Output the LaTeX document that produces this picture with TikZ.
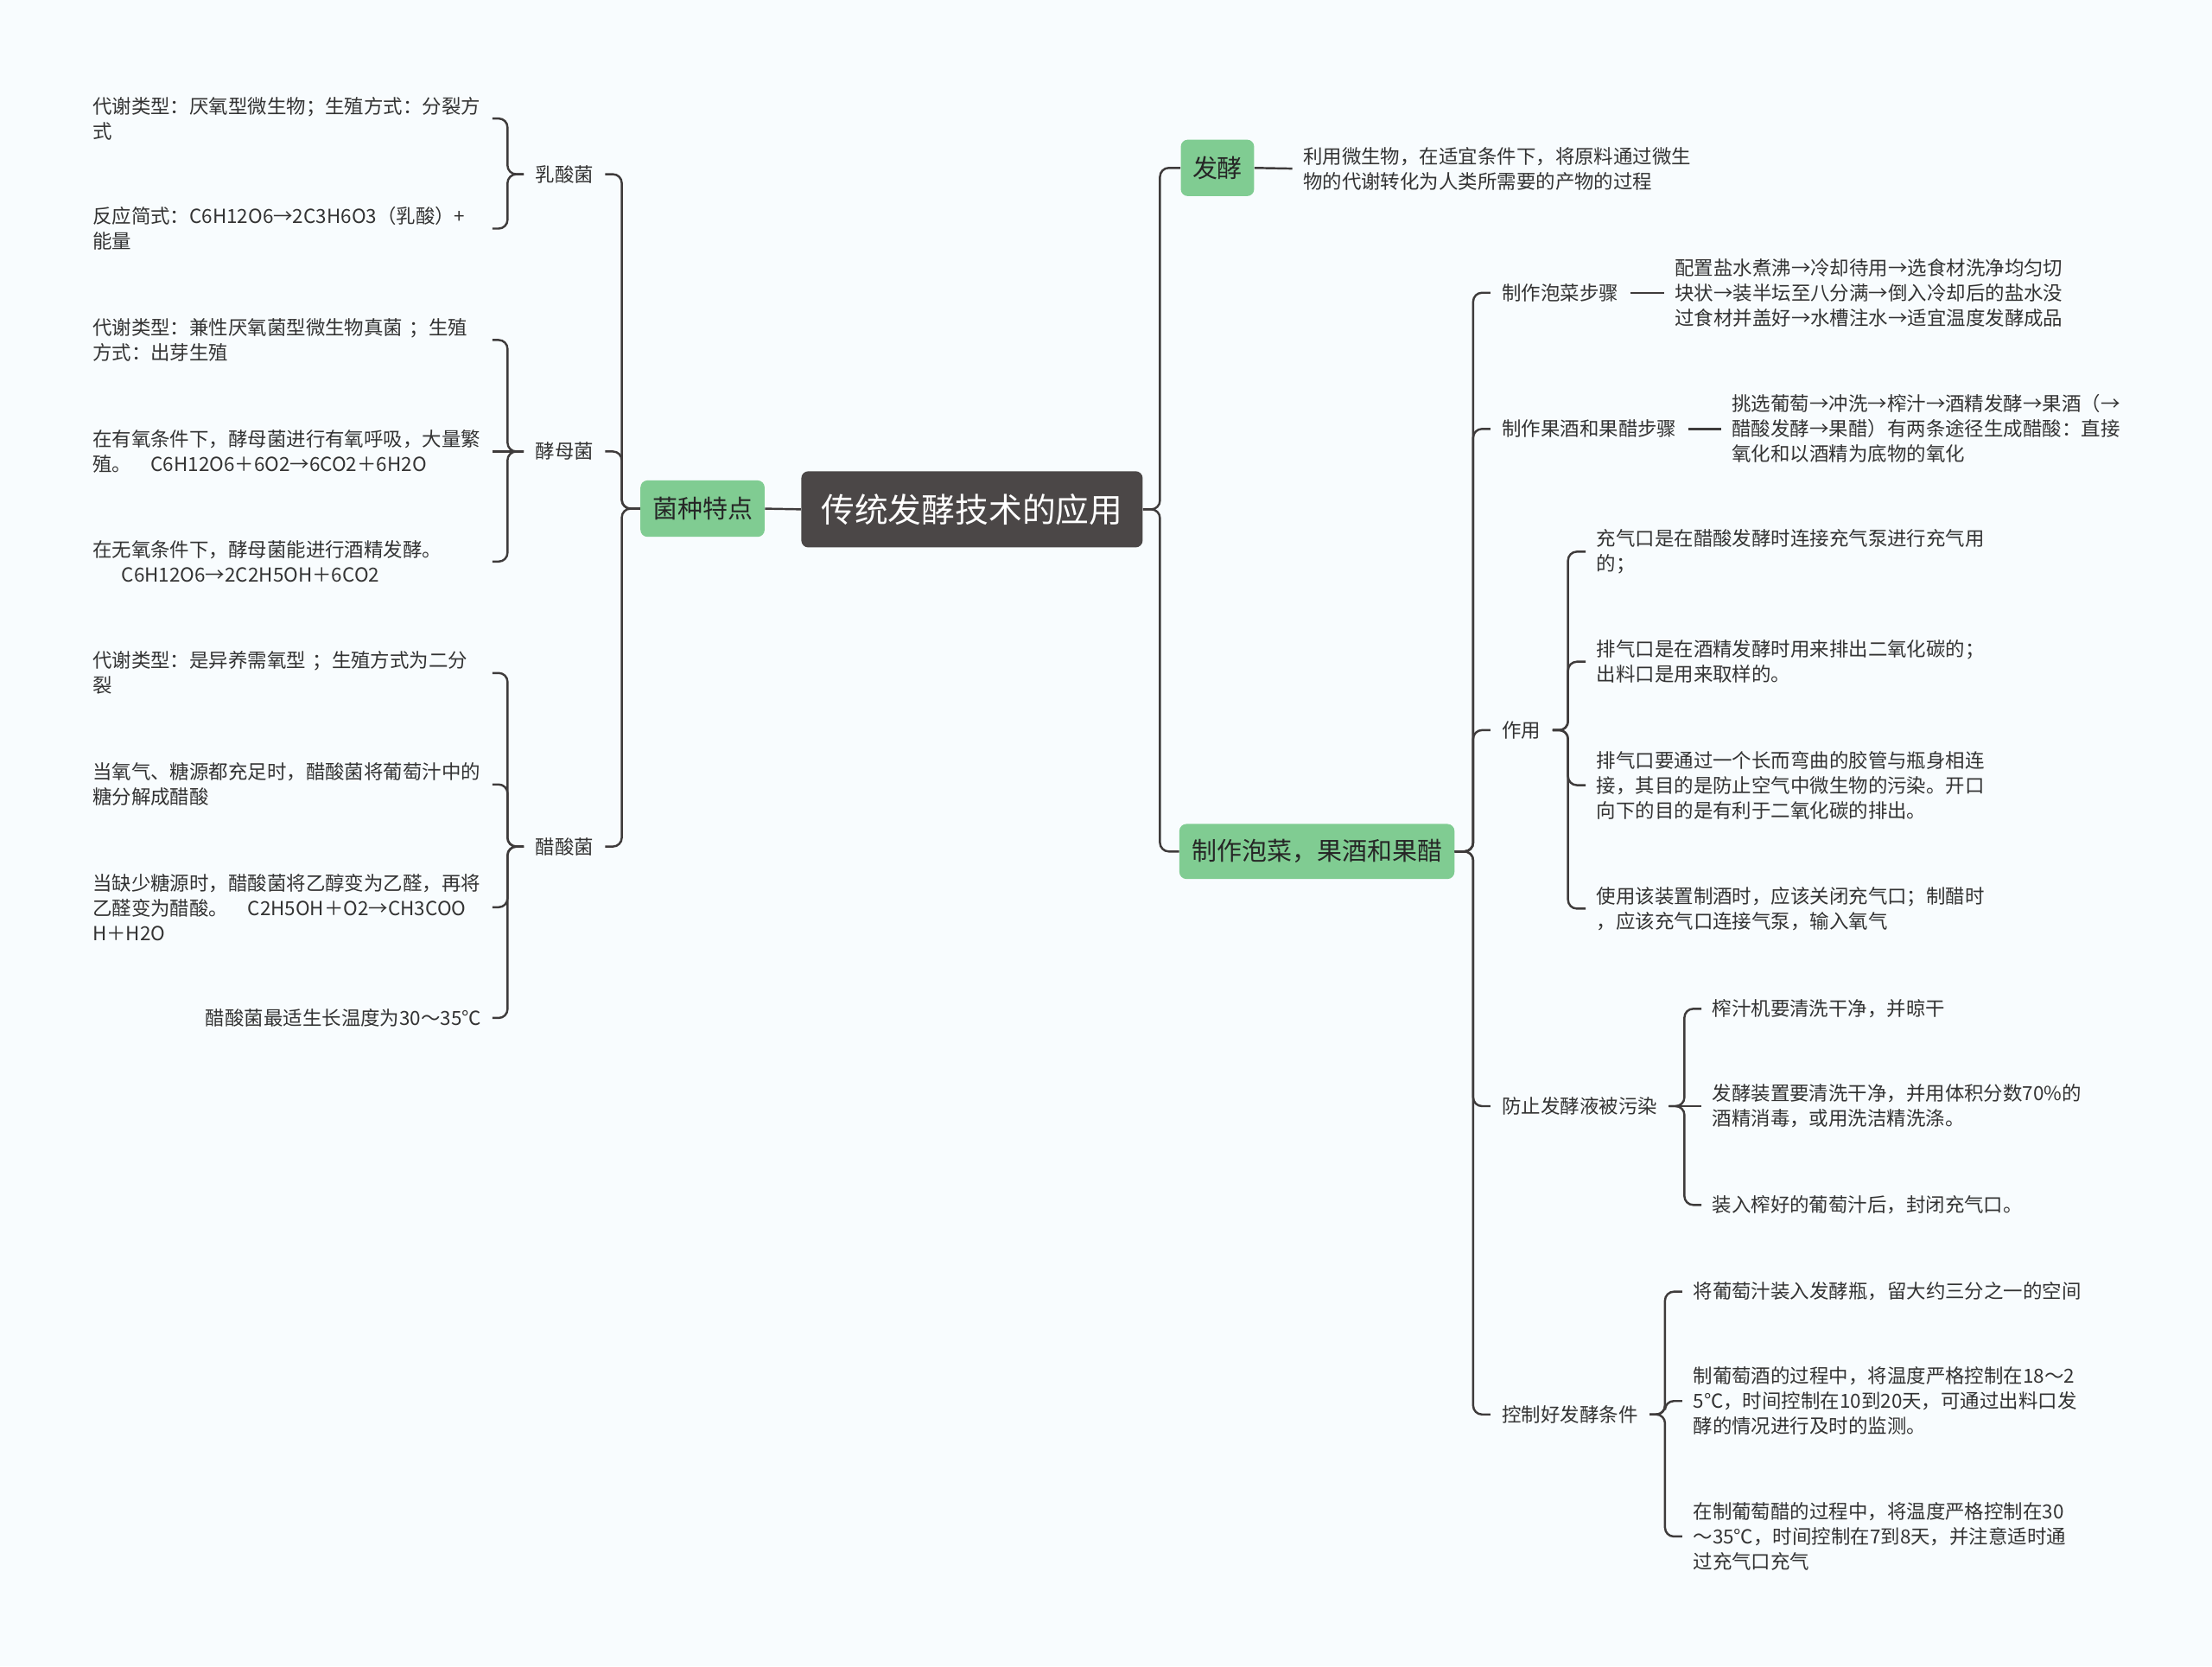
\documentclass[tikz,border=0pt]{standalone}
\usepackage{fontspec}
\setmainfont{Noto Sans CJK SC}
\usepackage{tikz}
\usepackage{xcolor}
\definecolor{bgcol}{HTML}{F8FCFE}
\definecolor{linkcol}{HTML}{3E3B3B}
\definecolor{rootcol}{HTML}{4B4747}
\definecolor{greencol}{HTML}{80CC92}
\definecolor{txtcol}{HTML}{333333}

\begin{document}
\begin{tikzpicture}[
  x=0.8pt, y=-0.8pt,
  rootbox/.style={fill=rootcol, rounded corners=4pt, text=white, inner sep=0pt,
    font=\fontsize{19pt}{22pt}\selectfont, minimum width=193.6pt, minimum height=43.2pt},
  topic/.style={fill=greencol, rounded corners=4pt, text=black!85, inner sep=0pt,
    minimum height=32pt, font=\fontsize{14.2pt}{17pt}\selectfont},
  sub/.style={font=\fontsize{11pt}{14.2pt}\selectfont, text=txtcol,
    inner xsep=6.4pt, inner ysep=2pt},
  leaf/.style={font=\fontsize{11pt}{14.2pt}\selectfont, text=txtcol, align=left,
    inner xsep=6pt, inner ysep=2pt},
  leafl/.style={leaf, text width=220.5pt},
  link/.style={draw=linkcol, line width=1.2pt, rounded corners=5pt}
]
  \useasboundingbox (0,0) rectangle (1568,1181);
  \fill[bgcol] (0,0) rectangle (1568,1181);

  % centro
  \node[rootbox] (root) at (689,361) {传统发酵技术的应用};

  % lado esquerdo
  \node[topic, minimum width=70.4pt] (jz) at (498,360.5) {菌种特点};
  \node[sub, anchor=east] (rsj) at (429,123.5) {乳酸菌};
  \node[sub, anchor=east] (jmj) at (429,320) {酵母菌};
  \node[sub, anchor=east] (csj) at (429,600) {醋酸菌};

  \node[leafl, anchor=east] (rsj1) at (349,84)
    {代谢类型：厌氧型微生物；生殖方式：分裂方\\式};
  \node[leafl, anchor=east] (rsj2) at (349,162)
    {反应简式：C6H12O6→2C3H6O3（乳酸）+\\能量};
  \node[leafl, anchor=east] (jmj1) at (349,241)
    {代谢类型：兼性厌氧菌型微生物真菌 ；生殖\\方式：出芽生殖};
  \node[leafl, anchor=east] (jmj2) at (349,320)
    {在有氧条件下，酵母菌进行有氧呼吸，大量繁\\殖。\hspace{1em}C6H12O6＋6O2→6CO2＋6H2O};
  \node[leafl, anchor=east] (jmj3) at (349,398)
    {在无氧条件下，酵母菌能进行酒精发酵。\\\hspace*{1.5em}C6H12O6→2C2H5OH＋6CO2};
  \node[leafl, anchor=east] (csj1) at (349,477)
    {代谢类型：是异养需氧型 ；生殖方式为二分\\裂};
  \node[leafl, anchor=east] (csj2) at (349,556)
    {当氧气、糖源都充足时，醋酸菌将葡萄汁中的\\糖分解成醋酸};
  \node[leafl, anchor=east] (csj3) at (349,643)
    {当缺少糖源时，醋酸菌将乙醇变为乙醛，再将\\乙醛变为醋酸。\hspace{1em}C2H5OH＋O2→CH3COO\\H＋H2O};
  \node[leaf, anchor=east] (csj4) at (349,721.5)
    {醋酸菌最适生长温度为30～35℃};

  \draw[link] (root.west) -- (jz.east);
  \foreach \c in {rsj,jmj,csj}
    \draw[link] (jz.west) -- ++(-13,0) |- (\c.east);
  \foreach \c in {rsj1,rsj2}
    \draw[link] (rsj.west) -- ++(-11.5,0) |- (\c.east);
  \foreach \c in {jmj1,jmj3}
    \draw[link] (jmj.west) -- ++(-11.5,0) |- (\c.east);
  \draw[link] (jmj.west) -- (jmj2.east);
  \foreach \c in {csj1,csj2,csj3,csj4}
    \draw[link] (csj.west) -- ++(-11.5,0) |- (\c.east);

  % lado direito
  \node[topic, minimum width=41.6pt] (fj) at (863,119) {发酵};
  \node[topic, minimum width=156pt, minimum height=31.2pt] (zz) at (933.5,603.5)
    {制作泡菜，果酒和果醋};

  \node[leaf, anchor=west] (fj1) at (916,119.5)
    {利用微生物，在适宜条件下，将原料通过微生\\物的代谢转化为人类所需要的产物的过程};

  \node[sub, anchor=west] (pc) at (1056.5,207.5) {制作泡菜步骤};
  \node[sub, anchor=west] (gj) at (1056.5,304) {制作果酒和果醋步骤};
  \node[sub, anchor=west] (zy) at (1056.5,517.5) {作用};
  \node[sub, anchor=west] (fz) at (1056.5,784) {防止发酵液被污染};
  \node[sub, anchor=west] (kz) at (1056.5,1002.5) {控制好发酵条件};

  \node[leaf, anchor=west] (pc1) at (1179.5,207.5)
    {配置盐水煮沸→冷却待用→选食材洗净均匀切\\块状→装半坛至八分满→倒入冷却后的盐水没\\过食材并盖好→水槽注水→适宜温度发酵成品};
  \node[leaf, anchor=west] (gj1) at (1220,304)
    {挑选葡萄→冲洗→榨汁→酒精发酵→果酒（→\\醋酸发酵→果醋）有两条途径生成醋酸：直接\\氧化和以酒精为底物的氧化};

  \node[leaf, anchor=west] (zy1) at (1124,391)
    {充气口是在醋酸发酵时连接充气泵进行充气用\\的；};
  \node[leaf, anchor=west] (zy2) at (1124,469)
    {排气口是在酒精发酵时用来排出二氧化碳的；\\出料口是用来取样的。};
  \node[leaf, anchor=west] (zy3) at (1124,556.5)
    {排气口要通过一个长而弯曲的胶管与瓶身相连\\接，其目的是防止空气中微生物的污染。开口\\向下的目的是有利于二氧化碳的排出。};
  \node[leaf, anchor=west] (zy4) at (1124,644)
    {使用该装置制酒时，应该关闭充气口；制醋时\\，应该充气口连接气泵，输入氧气};

  \node[leaf, anchor=west] (fz1) at (1206,715) {榨汁机要清洗干净，并晾干};
  \node[leaf, anchor=west] (fz2) at (1206,784)
    {发酵装置要清洗干净，并用体积分数70\%的\\酒精消毒，或用洗洁精洗涤。};
  \node[leaf, anchor=west] (fz3) at (1206,854) {装入榨好的葡萄汁后，封闭充气口。};

  \node[leaf, anchor=west] (kz1) at (1192.5,915.5) {将葡萄汁装入发酵瓶，留大约三分之一的空间};
  \node[leaf, anchor=west] (kz2) at (1192.5,993)
    {制葡萄酒的过程中，将温度严格控制在18～2\\5℃，时间控制在10到20天，可通过出料口发\\酵的情况进行及时的监测。};
  \node[leaf, anchor=west] (kz3) at (1192.5,1089)
    {在制葡萄醋的过程中，将温度严格控制在30\\～35℃，时间控制在7到8天，并注意适时通\\过充气口充气};

  \foreach \c in {fj,zz}
    \draw[link] (root.east) -- ++(12,0) |- (\c.west);
  \draw[link] (fj.east) -- (fj1.west);
  \foreach \c in {pc,gj,zy,fz,kz}
    \draw[link] (zz.east) -- ++(13,0) |- (\c.west);
  \draw[link] (pc.east) -- (pc1.west);
  \draw[link] (gj.east) -- (gj1.west);
  \foreach \c in {zy1,zy2,zy3,zy4}
    \draw[link] (zy.east) -- ++(11,0) |- (\c.west);
  \foreach \c in {fz1,fz3}
    \draw[link] (fz.east) -- ++(11,0) |- (\c.west);
  \draw[link] (fz.east) -- (fz2.west);
  \foreach \c in {kz1,kz2,kz3}
    \draw[link] (kz.east) -- ++(11,0) |- (\c.west);
\end{tikzpicture}
\end{document}
